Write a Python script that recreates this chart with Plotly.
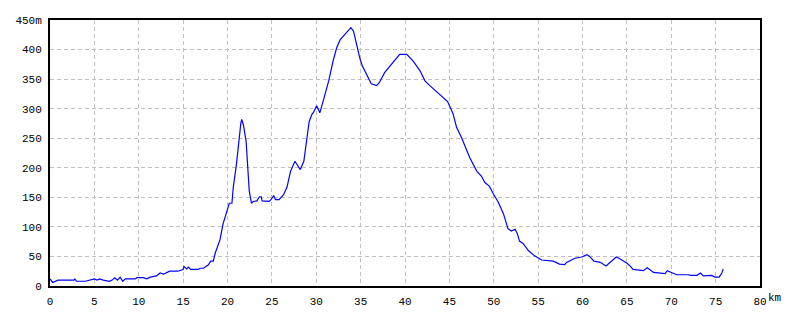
import plotly.graph_objects as go

dist_km = [0.0, 0.3, 0.9, 2.7, 2.8, 3.0, 4.0, 4.5, 5.0, 5.3, 5.6, 6.0, 6.7, 7.0, 7.3, 7.6, 7.9, 8.2, 8.5,
           9.6, 9.8, 10.5, 10.9, 11.3, 12.0, 12.4, 12.8, 13.2, 13.5, 14.4, 15.0, 15.1, 15.4, 15.6, 15.85,
           16.7, 16.9, 17.3, 17.85, 18.1, 18.4, 18.6, 19.15, 19.5, 20.0, 20.2, 20.5, 20.65, 21.0, 21.3,
           21.5, 21.6, 21.8, 22.1, 22.3, 22.45, 22.7, 22.9, 23.3, 23.6, 23.8, 23.9, 24.7, 24.9, 25.2, 25.4,
           25.8, 26.3, 26.7, 27.1, 27.6, 28.2, 28.6, 28.9, 29.2, 29.5, 29.7, 30.05, 30.4, 30.8, 31.4, 31.9,
           32.3, 32.7, 33.2, 33.9, 34.2, 34.55, 34.9, 35.2, 35.7, 36.2, 36.8, 37.1, 37.7, 38.5, 39.4, 40.2,
           40.9, 41.7, 42.25, 42.8, 43.9, 44.4, 44.8, 45.4, 45.8, 46.4, 46.8, 47.3, 48.1, 48.6, 49.0, 49.5,
           49.95, 50.5, 51.1, 51.45, 51.6, 52.0, 52.4, 52.65, 52.9, 53.3, 53.9, 54.6, 55.4, 56.7, 57.4, 58.0,
           58.2, 59.15, 59.9, 60.5, 60.8, 61.3, 62.0, 62.65, 63.8, 64.2, 64.98, 65.35, 65.7, 66.85, 67.3,
           68.0, 68.8, 69.3, 69.55, 69.86, 70.2, 70.6, 71.9, 72.2, 72.9, 73.3, 73.6, 74.2, 74.55, 74.9,
           75.4, 75.7, 75.86]
elev_m = [12, 6, 10, 10, 12, 8, 8, 10, 12, 10, 12, 10, 8, 10, 14, 10, 15, 8, 12,
          12, 14, 14, 12, 15, 17, 22, 20, 23, 25, 25, 28, 33, 29, 32, 28,
          28, 30, 30, 36, 42, 42, 55, 78, 105, 133, 140, 140, 167, 205, 253,
          275, 282, 272, 244, 205, 161, 140, 143, 144, 151, 151, 144, 143, 146, 153, 146,
          146, 154, 167, 194, 211, 197, 211, 244, 278, 290, 294, 305, 293, 314, 347, 381,
          403, 417, 425, 437, 431, 408, 386, 372, 358, 342, 339, 344, 361, 375, 392, 392,
          381, 364, 347, 339, 325, 317, 312, 292, 269, 250, 234, 217, 194, 186, 175, 169,
          156, 142, 122, 106, 97, 93, 96, 89, 76, 72, 60, 51, 44, 42, 37, 36,
          40, 47, 49, 53, 50, 42, 40, 34, 49, 46, 39, 34, 28, 26, 31,
          23, 22, 21, 26, 24, 21, 19, 19, 18, 18, 22, 17, 17, 18, 15,
          15, 22, 29]

x_ticks = list(range(0, 81, 5))
x_ticktext = [str(v) for v in x_ticks]
y_ticks = list(range(0, 451, 50))
y_ticktext = [str(v) for v in y_ticks[:-1]] + ["450m"]

FONT = dict(family="Liberation Mono", size=11, color="black")

fig = go.Figure()
fig.add_trace(go.Scatter(x=dist_km, y=elev_m, mode="lines",
                         line=dict(color="#0000ff", width=1.2), hoverinfo="skip"))

axis_common = dict(showline=True, mirror=True, linecolor="black", linewidth=2,
                   showgrid=True, gridcolor="#c0c0c0", griddash="4px,3px", gridwidth=1,
                   zeroline=False, ticks="", tickfont=FONT, fixedrange=True)

fig.update_xaxes(range=[0, 80], tickmode="array", tickvals=x_ticks, ticktext=x_ticktext,
                 ticklabelstandoff=4, **axis_common)
fig.update_yaxes(range=[0, 450], tickmode="array", tickvals=y_ticks, ticktext=y_ticktext,
                 ticklabelstandoff=4, **axis_common)

fig.add_annotation(x=1, y=0, xref="paper", yref="paper", text="km", showarrow=False,
                   xanchor="left", yanchor="top", xshift=6, yshift=-4, font=FONT)

fig.update_layout(width=800, height=320, margin=dict(l=50, r=40, t=20, b=30),
                  plot_bgcolor="white", paper_bgcolor="white", showlegend=False)

fig.write_html("out.html")
